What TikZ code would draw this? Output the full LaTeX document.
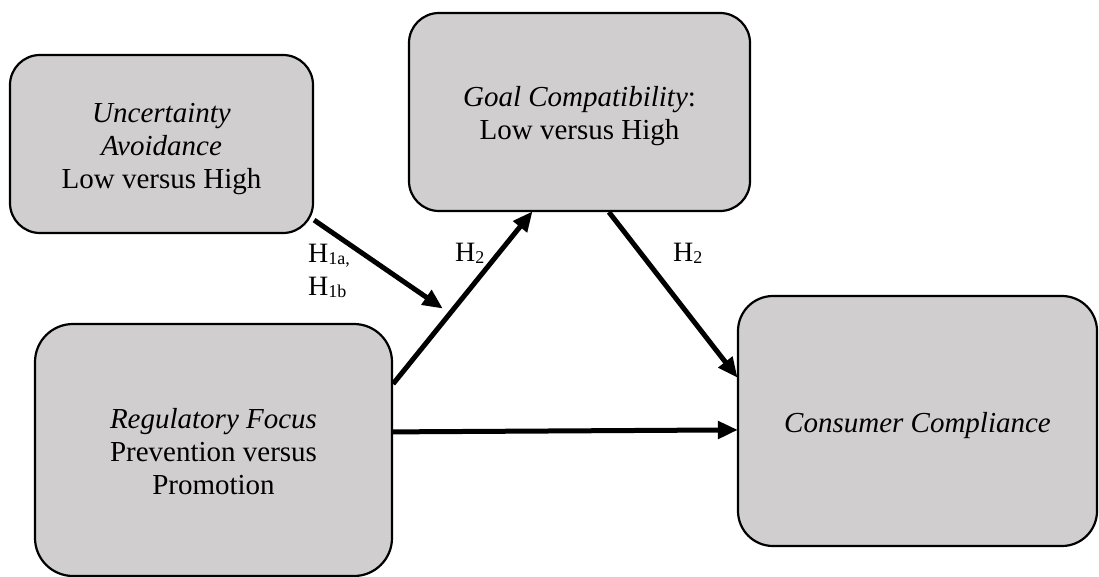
\documentclass[tikz,border=0pt]{standalone}
\usepackage{fontspec}
\setmainfont{Liberation Serif}
\usetikzlibrary{arrows.meta}
\definecolor{boxgray}{RGB}{208,206,207}
\tikzset{
  box/.style={draw=black, line width=2.2pt, fill=boxgray, rounded corners=34pt,
    align=center, inner sep=0pt, font=\fontsize{29}{33}\selectfont},
  conn/.style={line width=5pt, -{Triangle[length=20pt,width=17pt]}, shorten >=-1pt},
  lab/.style={inner sep=0pt, font=\fontsize{28}{33}\selectfont}
}
\newcommand{\hsub}[1]{H\raisebox{-2pt}{\fontsize{18}{18}\selectfont #1}}
\newcommand{\tstrut}{\rule{0pt}{31pt}}
\newcommand{\bstrut}{\rule[-8pt]{0pt}{0pt}}
\begin{document}
\begin{tikzpicture}[x=1pt,y=-1pt]
\useasboundingbox (0,0) rectangle (1099,577);
\node[box, rounded corners=30pt, minimum width=303pt, minimum height=178pt] (ua) at (161.5,144)
  {\tstrut\textit{Uncertainty}\\\textit{Avoidance}\\Low versus High\bstrut};
\node[box, rounded corners=30pt, minimum width=341pt, minimum height=198pt] (gc) at (579.5,112)
  {\tstrut\textit{Goal Compatibility}:\\Low versus High\bstrut};
\node[box, rounded corners=38pt, minimum width=357pt, minimum height=252pt] (rf) at (213.5,450)
  {\tstrut\textit{Regulatory Focus}\\Prevention versus\\Promotion\bstrut};
\node[box, rounded corners=35pt, minimum width=359pt, minimum height=250pt] (cc) at (917.5,421)
  {\tstrut\textit{Consumer Compliance}\bstrut};
\coordinate (m) at (442,308);
\draw[conn] ([yshift=14pt]ua.south east) -- (m);
\draw[conn] ([yshift=-61pt]rf.north east) -- ([xshift=124pt]gc.south west);
\draw[conn] ([xshift=201pt]gc.south west) -- ([yshift=-82pt]cc.north west);
\draw[conn] ([yshift=-109pt]rf.north east) -- ([yshift=-135pt]cc.north west);
\node[lab, anchor=base west] (h1a) at (308,262) {\hsub{1a,}};
\node[lab, anchor=base west] (h1b) at (308,295) {\hsub{1b}};
\node[lab, anchor=base west] (h2a) at (455,261) {\hsub{2}};
\node[lab, anchor=base west] (h2b) at (673,261) {\hsub{2}};
\end{tikzpicture}
\end{document}
